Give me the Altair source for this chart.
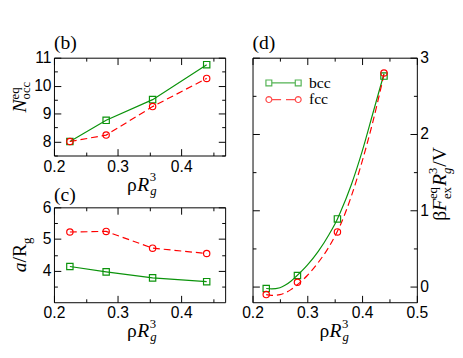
import math
import altair as alt
import pandas as pd

# ---------------- data ----------------
rho = [0.225, 0.282, 0.355, 0.44]
nocc_bcc = [8.0, 8.76, 9.5, 10.75]
nocc_fcc = [8.0, 8.23, 9.25, 10.26]
a_bcc = [4.13, 3.96, 3.77, 3.65]
a_fcc = [5.22, 5.24, 4.71, 4.54]
f_bcc = [-0.02, 0.15, 0.89, 2.76]
f_fcc = [-0.10, 0.06, 0.72, 2.80]
fit_rho = [0.225, 0.235, 0.25, 0.26, 0.27, 0.28, 0.30, 0.32, 0.34, 0.355, 0.36, 0.38, 0.40, 0.42, 0.44]
fit_bcc = [-0.02, -0.025, -0.01, 0.025, 0.075, 0.14, 0.285, 0.465, 0.69, 0.89, 0.97, 1.33, 1.77, 2.28, 2.79]
fit_fcc = [-0.10, -0.11, -0.10, -0.075, -0.035, 0.02, 0.15, 0.32, 0.53, 0.73, 0.805, 1.18, 1.64, 2.17, 2.78]
lattices = ["bcc", "fcc"]

GREEN = "#0b930b"
RED = "#ff0000"
SERIF = "Liberation Serif"
SANS = "Liberation Sans"
TS = 20   # title font size
SS = 13   # sub/superscript size

ONE = pd.DataFrame({"k": [0]})

# approximate Times advance widths (em)
W_UP = {"ρ": 0.52, "R": 0.667, "3": 0.5, "g": 0.5, "a": 0.444, "/": 0.278, "V": 0.722,
        "o": 0.5, "c": 0.444, "e": 0.444, "q": 0.5, "x": 0.5, "β": 0.5}
W_IT = {"R": 0.611, "N": 0.667, "a": 0.5, "F": 0.611, "g": 0.5}


def tw(s, size, italic=False):
    tab = W_IT if italic else W_UP
    return sum(tab.get(ch, 0.5) for ch in s) * size


def txt(s, x, y, size=TS, italic=False, angle=0, align="left", font=SERIF):
    kw = dict(text=s, font=font, fontSize=size, fontStyle="italic" if italic else "normal",
              align=align, baseline="alphabetic", color="black")
    if angle:
        kw["angle"] = angle
    return alt.Chart(ONE).mark_text(**kw).encode(x=alt.value(x), y=alt.value(y))


def ax(orient, values, size, labels=False, fmt=None):
    kw = dict(orient=orient, values=values, tickSize=size, offset=-size, domain=False,
              grid=False, ticks=True, tickColor="black", tickWidth=1, labels=labels, title=None)
    if labels:
        kw.update(labelFont=SANS, labelFontSize=16, labelColor="black", labelPadding=3,
                  format=fmt, labelFlush=False, labelOverlap=False)
    return alt.Axis(**kw)


def xtitle(w, h, off):
    x0 = w / 2 + off
    y0 = h + 36
    xr = x0 + tw("ρ", TS)
    xe = xr + tw("R", TS, True)
    return [txt("ρ", x0, y0), txt("R", xr, y0, italic=True),
            txt("3", xe + 0.5, y0 - 10, size=SS), txt("g", xe + 1, y0 + 4, size=SS, italic=True)]


def panel(w, h, xdom, ydom, xmaj, xmin, ymaj, ymin, yfmt, ylab_right, layers, extra):
    xs = alt.Scale(domain=xdom, nice=False, zero=False)
    ys = alt.Scale(domain=ydom, nice=False, zero=False)
    cdf = pd.DataFrame({"x": [xdom[0]], "y": [ydom[0]]})

    def carrier(xa, ya):
        return alt.Chart(cdf).mark_point(opacity=0).encode(
            x=alt.X("x:Q", scale=xs, axis=xa), y=alt.Y("y:Q", scale=ys, axis=ya))

    carriers = [
        carrier(ax("bottom", xmaj, 7, True, ".1f"), ax("left", ymaj, 7, not ylab_right, yfmt)),
        carrier(ax("bottom", xmin, 3.5), ax("left", ymin, 3.5)),
        carrier(ax("top", xmaj, 7), ax("right", ymaj, 7, ylab_right, yfmt)),
        carrier(ax("top", xmin, 3.5), ax("right", ymin, 3.5)),
    ]
    data_layers = [f(xs, ys) for f in layers]
    return alt.layer(*carriers, *data_layers, *extra).resolve_axis(
        x="independent", y="independent").properties(width=w, height=h)


def line_layer(xv, yv, color, dash=None, interp=None):
    df = pd.DataFrame({"x": xv, "y": yv})

    def f(xs, ys):
        kw = dict(color=color, strokeWidth=1.2, clip=True)
        if dash:
            kw["strokeDash"] = dash
        if interp:
            kw["interpolate"] = interp
        return alt.Chart(df).mark_line(**kw).encode(
            x=alt.X("x:Q", scale=xs, axis=None), y=alt.Y("y:Q", scale=ys, axis=None))
    return f


def point_layer(xv, yv, color, shape):
    df = pd.DataFrame({"x": xv, "y": yv})

    def f(xs, ys):
        return alt.Chart(df).mark_point(shape=shape, filled=False, size=42, strokeWidth=1.2,
                                        color=color, opacity=1).encode(
            x=alt.X("x:Q", scale=xs, axis=None), y=alt.Y("y:Q", scale=ys, axis=None))
    return f


# ---------------- panel (b) ----------------
WL, HB, HC = 175, 100, 97
WD, HD = 168, 250
GAP = 15
XL = [0.2, 0.469]
xmajL = [0.2, 0.3, 0.4]
xminL = [0.25, 0.35, 0.45]

b_extra = xtitle(WL, HB, -12.8) + [txt("(b)", 0, -9)]
nx, ny = -29, 56
nw = tw("N", TS, True)
b_extra += [txt("N", nx, ny, italic=True, angle=270),
            txt("occ", nx + 5, ny - nw, size=SS, angle=270),
            txt("eq", nx - 7, ny - nw, size=SS, angle=270)]
pb = panel(WL, HB, XL, [7.5, 11], xmajL, xminL, [8, 9, 10, 11], [7.5, 8.5, 9.5, 10.5], "d", False,
           [line_layer(rho, nocc_bcc, GREEN), line_layer(rho, nocc_fcc, RED, [7, 4]),
            point_layer(rho, nocc_bcc, GREEN, "square"), point_layer(rho, nocc_fcc, RED, "circle")],
           b_extra)

# ---------------- panel (c) ----------------
c_extra = xtitle(WL, HC, -12.8) + [txt("(c)", 0, -7)]
axx, ayy = -28.5, 66.3
c_extra += [txt("a", axx, ayy, italic=True, angle=270),
            txt("/R", axx, ayy - tw("a", TS, True), angle=270),
            txt("g", axx + 5, ayy - tw("a", TS, True) - tw("/R", TS), size=SS, angle=270)]
pc = panel(WL, HC, XL, [3, 6], xmajL, xminL, [4, 5, 6], [3.5, 4.5, 5.5], "d", False,
           [line_layer(rho, a_bcc, GREEN), line_layer(rho, a_fcc, RED, [7, 4]),
            point_layer(rho, a_bcc, GREEN, "square"), point_layer(rho, a_fcc, RED, "circle")],
           c_extra)

# ---------------- panel (d) ----------------


def circ(cx, r, n=16):
    pts = [(cx + r * math.cos(2 * math.pi * i / n), r * math.sin(2 * math.pi * i / n)) for i in range(n)]
    return "M" + "L".join(f"{px:.3f},{py:.3f}" for px, py in pts) + "Z"


PATH_BCC = "M-0.667,0H0.667M-1,-0.167H-0.667V0.167H-1ZM0.667,-0.167H1V0.167H0.667Z"
PATH_FCC = "M-0.667,0H-0.139M0.139,0H0.667" + circ(-0.833, 0.167) + circ(0.833, 0.167)

# legend is positioned in the top-level frame (origin = top-left of panel (b))
leg = alt.Legend(title=None, orient="none", legendX=WL + GAP + 25.7, legendY=18, symbolSize=1296,
                 clipHeight=15.6, rowPadding=0, padding=0, labelFont=SERIF, labelFontSize=16,
                 labelColor="black", labelOffset=7, symbolStrokeWidth=1.2)
leg_df = pd.DataFrame({"lattice": lattices, "v": [0, 0]})
legend_layer = alt.Chart(leg_df).transform_filter("datum.v > 1").mark_point(
    filled=False, strokeWidth=1.2).encode(
    color=alt.Color("lattice:N", scale=alt.Scale(domain=lattices, range=[GREEN, RED]), legend=leg),
    shape=alt.Shape("lattice:N", scale=alt.Scale(domain=lattices, range=[PATH_BCC, PATH_FCC]), legend=leg))

d_extra = xtitle(WD, HD, -15.6) + [txt("(d)", 0, -9), legend_layer]
bx, by = 197.7, 166.7
yy = by
d_extra.append(txt("β", bx, yy, angle=270)); yy -= tw("β", TS)
d_extra.append(txt("F", bx, yy, italic=True, angle=270)); yy -= tw("F", TS, True)
d_extra.append(txt("ex", bx + 5, yy, size=SS, angle=270))
d_extra.append(txt("eq", bx - 9, yy, size=SS, angle=270)); yy -= tw("eq", SS) + 1
d_extra.append(txt("R", bx, yy, italic=True, angle=270)); yy -= tw("R", TS, True)
d_extra.append(txt("3", bx - 9, yy, size=SS, angle=270))
d_extra.append(txt("g", bx + 5, yy, size=SS, italic=True, angle=270)); yy -= tw("3", SS) + 1
d_extra.append(txt("/V", bx, yy, angle=270))

pdd = panel(WD, HD, [0.2, 0.5], [-0.2, 3], [0.2, 0.3, 0.4, 0.5], [0.25, 0.35, 0.45],
            [0, 1, 2, 3], [0.5, 1.5, 2.5], "d", True,
            [line_layer(fit_rho, fit_bcc, GREEN, interp="monotone"),
             line_layer(fit_rho, fit_fcc, RED, [7, 4], interp="monotone"),
             point_layer(rho, f_bcc, GREEN, "square"), point_layer(rho, f_fcc, RED, "circle")],
            d_extra)

left = alt.vconcat(pb, pc, spacing=53, bounds="flush")
chart = alt.hconcat(left, pdd, spacing=GAP).properties(
    padding={"left": 0, "top": 21, "right": 0, "bottom": 0},
    background="white",
).configure_view(stroke="black", strokeWidth=1)

chart.save("out.html", embed_options={"renderer": "svg", "actions": False})
